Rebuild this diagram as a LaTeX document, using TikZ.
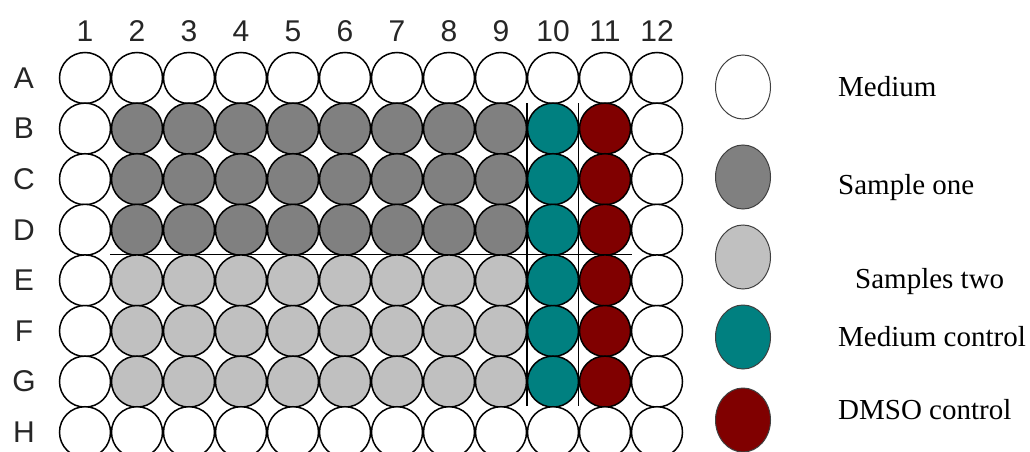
\documentclass[tikz,border=0pt]{standalone}
\usepackage{fontspec}
\setmainfont{Liberation Serif}
\newfontfamily\platefont{Liberation Sans}
\usetikzlibrary{shapes.geometric}
\definecolor{sampleone}{HTML}{808080}
\definecolor{sampletwo}{HTML}{C0C0C0}
\definecolor{medctrl}{HTML}{008080}
\definecolor{dmsoctrl}{HTML}{800000}
\definecolor{legline}{HTML}{404040}
\tikzset{
  well/.style={circle, draw=black, line width=1.5pt, minimum size=51pt, inner sep=0pt, fill=white},
  legwell/.style={ellipse, draw=legline, line width=1pt, minimum width=55pt, minimum height=64pt, inner sep=0pt, fill=white},
  platelabel/.style={font=\platefont\fontsize{30}{30}\selectfont, text=black!85, inner sep=0pt},
  legtext/.style={font=\fontsize{29}{29}\selectfont, anchor=west, inner sep=0pt},
  sep/.style={draw=black, line width=1.3pt}
}
\begin{document}
\begin{tikzpicture}[x=1pt,y=-1pt]
\useasboundingbox (0,0) rectangle (1030,452);
% column labels
\foreach \c in {1,...,12} {
  \node[platelabel] (col\c) at ({85+(\c-1)*52},31) {\c};
}
% row labels and wells
\foreach \r [count=\i from 0] in {A,B,C,D,E,F,G,H} {
  \node[platelabel] (row\r) at (24,{78+\i*50.6}) {\r};
  \foreach \c in {1,...,12} {
    \pgfmathsetmacro{\fc}{"white"}
    \def\fc{white}
    \ifnum\i>0 \ifnum\i<7
      \ifnum\c>1 \ifnum\c<10
        \ifnum\i<4 \def\fc{sampleone}\else\def\fc{sampletwo}\fi
      \fi\fi
      \ifnum\c=10 \def\fc{medctrl}\fi
      \ifnum\c=11 \def\fc{dmsoctrl}\fi
    \fi\fi
    \node[well, fill=\fc] (w\r\c) at ({85+(\c-1)*52},{78+\i*50.6}) {};
  }
}
% separator lines
\coordinate (v1t) at (527,103);
\coordinate (v1b) at (527,406);
\coordinate (v2t) at (578.5,103);
\coordinate (v2b) at (578.5,406);
\coordinate (hl) at (110,254.5);
\coordinate (hr) at (632,254.5);
\draw[sep] (v1t) -- (v1b);
\draw[sep] (v2t) -- (v2b);
\draw[sep] (hl) -- (hr);
% legend
\node[legwell, fill=white] (l1) at (743,87) {};
\node[legwell, fill=sampleone] (l2) at (743,177) {};
\node[legwell, fill=sampletwo] (l3) at (743,257) {};
\node[legwell, fill=medctrl] (l4) at (743,337) {};
\node[legwell, fill=dmsoctrl] (l5) at (743,420) {};
\node[legtext] (t1) at (838,87) {Medium};
\node[legtext] (t2) at (838,188) {Sample one};
\node[legtext] (t3) at (855,282) {Samples two};
\node[legtext] (t4) at (838,337) {Medium control};
\node[legtext] (t5) at (838,410) {DMSO control};
\end{tikzpicture}
\end{document}
